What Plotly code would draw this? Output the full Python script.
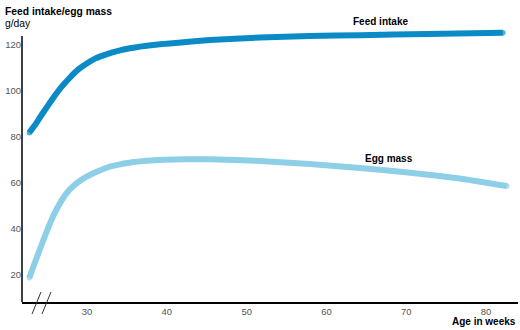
import plotly.graph_objects as go

# Data
feed_weeks = [22.77, 23.48, 24.11, 24.95, 25.78, 26.83, 27.87, 28.91, 29.96, 31.0, 32.05, 33.09, 34.14,
              35.39, 36.64, 38.31, 39.98, 41.44, 45.4, 51.7, 57.9, 64.2, 72.6, 82.1]
feed_vals = [81.9, 85.2, 88.6, 92.9, 97.1, 101.9, 105.9, 109.4, 112.0, 114.1, 115.5, 116.7, 117.7,
             118.6, 119.3, 120.0, 120.6, 121.0, 122.2, 123.3, 123.9, 124.3, 124.8, 125.3]

egg_weeks = [22.77, 23.27, 23.90, 24.53, 25.15, 25.78, 26.41, 27.03, 27.66, 28.29, 29.12, 29.96, 31.0,
             32.05, 33.09, 34.14, 35.81, 37.48, 39.57, 42.5, 45.4, 51.7, 57.9, 64.2, 70.5, 76.7, 82.6]
egg_vals = [18.8, 23.6, 29.4, 35.2, 40.7, 45.8, 50.0, 53.6, 56.5, 58.7, 61.0, 62.8, 64.6,
            66.1, 67.3, 68.1, 69.1, 69.7, 70.1, 70.3, 70.3, 69.6, 68.3, 66.5, 64.5, 62.0, 58.7]

x_ticks = [30, 40, 50, 60, 70, 80]
y_ticks = [20, 40, 60, 80, 100, 120]

FEED_COLOR = "#0a8bc6"
EGG_COLOR = "#8dcfe7"
FONT = "Liberation Sans, Arial, sans-serif"


def end_caps(n, size=5.5):
    return [size] + [0] * (n - 2) + [size]


fig = go.Figure()
fig.add_trace(go.Scatter(x=feed_weeks, y=feed_vals, mode="lines+markers",
                         line=dict(color=FEED_COLOR, width=6, shape="spline", smoothing=0.3),
                         marker=dict(color=FEED_COLOR, size=end_caps(len(feed_weeks)), line=dict(width=0)),
                         showlegend=False, hoverinfo="skip"))
fig.add_trace(go.Scatter(x=egg_weeks, y=egg_vals, mode="lines+markers",
                         line=dict(color=EGG_COLOR, width=6, shape="spline", smoothing=0.3),
                         marker=dict(color=EGG_COLOR, size=end_caps(len(egg_weeks)), line=dict(width=0)),
                         showlegend=False, hoverinfo="skip"))

fig.update_layout(
    width=520, height=330,
    margin=dict(l=22, r=2, t=28, b=28),
    paper_bgcolor="white", plot_bgcolor="white",
    font=dict(family=FONT, size=10, color="black"),
    xaxis=dict(range=[21.85, 84.0], tickvals=x_ticks, showgrid=False, zeroline=False,
               showline=True, linecolor="black", linewidth=1.5, ticks="",
               tickfont=dict(size=9.5, color="#555555")),
    yaxis=dict(range=[8.26, 127.4], tickvals=y_ticks, showgrid=False, zeroline=False,
               showline=False, ticks="", tickfont=dict(size=9.5, color="#555555")),
    shapes=[
        dict(type="line", xref="paper", yref="paper", x0=0, x1=0, y0=0, y1=0.9708,
             line=dict(color="black", width=1.5)),
        dict(type="line", xref="paper", yref="paper", x0=0.0202, y0=-0.0438, x1=0.0383, y1=0.0365,
             line=dict(color="#333333", width=1)),
        dict(type="line", xref="paper", yref="paper", x0=0.0403, y0=-0.0438, x1=0.0585, y1=0.0365,
             line=dict(color="#333333", width=1)),
    ],
    annotations=[
        dict(text="<b>Feed intake/egg mass</b>", xref="paper", yref="paper", x=-0.0383, y=1.062,
             xanchor="left", yanchor="middle", showarrow=False, font=dict(size=10.3)),
        dict(text="g/day", xref="paper", yref="paper", x=-0.0383, y=1.0146,
             xanchor="left", yanchor="middle", showarrow=False, font=dict(size=10.3)),
        dict(text="<b>Age in weeks</b>", xref="paper", yref="paper", x=1.0, y=-0.072,
             xanchor="right", yanchor="middle", showarrow=False, font=dict(size=10)),
        dict(text="<b>Feed intake</b>", xref="paper", yref="paper", x=0.7228, y=1.0219,
             xanchor="center", yanchor="middle", showarrow=False, font=dict(size=10)),
        dict(text="<b>Egg mass</b>", xref="paper", yref="paper", x=0.740, y=0.5255,
             xanchor="center", yanchor="middle", showarrow=False, font=dict(size=10)),
    ],
)

fig.write_html("out.html")
